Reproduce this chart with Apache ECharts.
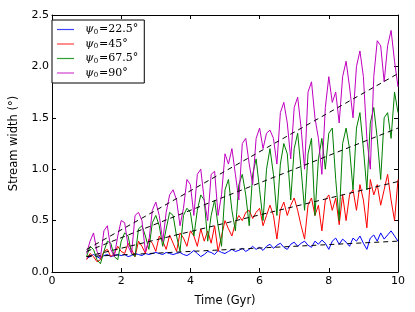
<!DOCTYPE html>
<html>
<head>
<meta charset="utf-8">
<script src="https://cdn.jsdelivr.net/npm/echarts@6/dist/echarts.min.js"></script>
<style>html,body{margin:0;padding:0;background:#fff;}#c{width:415px;height:312px;}</style>
</head>
<body>
<div id="c"></div>
<script>
var times = [1.0,1.1,1.2,1.3,1.4,1.5,1.6,1.7,1.8,1.9,2.0,2.1,2.2,2.3,2.4,2.5,2.6,2.7,2.8,2.9,3.0,3.1,3.2,3.3,3.4,3.5,3.6,3.7,3.8,3.9,4.0,4.1,4.2,4.3,4.4,4.5,4.6,4.7,4.8,4.9,5.0,5.1,5.2,5.3,5.4,5.5,5.6,5.7,5.8,5.9,6.0,6.1,6.2,6.3,6.4,6.5,6.6,6.7,6.8,6.9,7.0,7.1,7.2,7.3,7.4,7.5,7.6,7.7,7.8,7.9,8.0,8.1,8.2,8.3,8.4,8.5,8.6,8.7,8.8,8.9,9.0,9.1,9.2,9.3,9.4,9.5,9.6,9.7,9.8,9.9,10.0];

var blue = [0.13,0.15,0.17,0.15,0.13,0.16,0.17,0.15,0.16,0.17,0.16,0.17,0.15,0.16,0.18,0.17,0.16,0.18,0.17,0.18,0.19,0.18,0.17,0.19,0.18,0.17,0.18,0.19,0.17,0.16,0.18,0.21,0.18,0.15,0.17,0.20,0.19,0.17,0.21,0.19,0.18,0.20,0.22,0.20,0.21,0.23,0.20,0.22,0.25,0.22,0.24,0.21,0.25,0.27,0.23,0.26,0.28,0.24,0.22,0.27,0.29,0.25,0.28,0.30,0.26,0.24,0.30,0.27,0.31,0.28,0.22,0.30,0.33,0.27,0.32,0.29,0.25,0.33,0.30,0.35,0.28,0.22,0.33,0.36,0.30,0.38,0.32,0.36,0.40,0.35,0.30];

var red = [0.12,0.18,0.15,0.10,0.12,0.20,0.22,0.15,0.18,0.25,0.20,0.18,0.28,0.22,0.15,0.30,0.25,0.18,0.32,0.28,0.20,0.35,0.30,0.22,0.36,0.28,0.20,0.38,0.33,0.25,0.40,0.35,0.25,0.42,0.30,0.40,0.28,0.45,0.20,0.35,0.50,0.42,0.35,0.48,0.55,0.50,0.58,0.60,0.52,0.58,0.62,0.45,0.55,0.65,0.55,0.32,0.60,0.68,0.55,0.65,0.72,0.60,0.45,0.32,0.65,0.72,0.55,0.65,0.40,0.70,0.75,0.60,0.72,0.46,0.75,0.50,0.75,0.80,0.60,0.85,0.70,0.43,0.90,0.75,0.85,0.65,0.80,0.95,0.70,0.50,0.90];

var green = [0.15,0.25,0.22,0.12,0.08,0.20,0.30,0.28,0.15,0.12,0.30,0.38,0.35,0.18,0.15,0.42,0.45,0.35,0.22,0.48,0.55,0.45,0.25,0.42,0.58,0.55,0.35,0.20,0.55,0.62,0.58,0.35,0.60,0.75,0.70,0.30,0.55,0.70,0.45,0.25,0.80,0.90,0.60,0.40,0.85,0.95,0.75,0.45,0.95,1.10,0.80,0.50,1.00,1.20,0.95,0.55,1.05,1.25,1.15,0.70,1.20,1.35,1.00,0.60,1.15,1.30,0.55,1.10,1.30,1.00,1.35,1.40,0.90,0.50,1.25,1.40,1.20,0.80,1.40,1.55,1.20,0.80,1.45,1.60,1.30,0.90,1.50,1.55,1.30,1.75,1.55];

var magenta = [0.18,0.30,0.38,0.20,0.14,0.40,0.45,0.22,0.15,0.35,0.50,0.48,0.25,0.18,0.55,0.58,0.50,0.20,0.30,0.60,0.68,0.55,0.30,0.58,0.75,0.80,0.70,0.45,0.62,0.90,0.85,0.55,0.95,1.00,0.70,0.50,0.95,0.98,0.55,0.75,1.15,1.05,1.20,0.95,0.70,1.25,1.30,1.05,0.85,1.30,1.40,1.20,1.35,1.38,1.30,1.05,1.55,1.65,1.45,1.10,1.60,1.70,1.40,1.00,1.75,1.85,1.50,1.30,0.95,1.60,1.90,1.65,1.75,1.45,1.90,2.05,1.80,1.50,2.00,2.15,1.90,1.30,1.00,1.90,2.25,2.20,1.85,2.20,2.35,2.05,1.80];

var fitTimes = [1, 10];
var fitMagenta = [0.22, 1.93];
var fitGreen = [0.20, 1.40];
var fitRed = [0.15, 0.88];
var fitBlue = [0.15, 0.30];

var names = ['ψ0=22.5°', 'ψ0=45°', 'ψ0=67.5°', 'ψ0=90°'];
var labelRest = ['=22.5°', '=45°', '=67.5°', '=90°'];
var colors = ['#0000ff', '#ff0000', '#008000', '#bf00bf'];
var legendColors = ['#4040ff', '#ff4040', '#30a030', '#d040d0'];
var xTicks = [0, 2, 4, 6, 8, 10];
var yTicks = [0, 0.5, 1.0, 1.5, 2.0, 2.5];

function pairs(xs, ys) { return xs.map(function (x, i) { return [x, ys[i]]; }); }

var seriesVals = [blue, red, green, magenta];
var fits = [fitBlue, fitRed, fitGreen, fitMagenta];
var series = [];
seriesVals.forEach(function (v, i) {
  series.push({
    name: names[i], type: 'line', data: pairs(times, v), showSymbol: false,
    lineStyle: { color: colors[i], width: 1 }, itemStyle: { color: legendColors[i] },
    z: 2 + i, xAxisIndex: 0, yAxisIndex: 0
  });
});
fits.forEach(function (f) {
  series.push({
    type: 'line', data: pairs(fitTimes, f), showSymbol: false,
    lineStyle: { color: '#000', width: 1, type: [5, 4] }, z: 10,
    xAxisIndex: 0, yAxisIndex: 0, silent: true
  });
});

var axisFont = { fontFamily: 'DejaVu Sans', fontSize: 11, color: '#000' };
var chart = echarts.init(document.getElementById('c'), null, { renderer: 'canvas' });
chart.setOption({
  animation: false,
  backgroundColor: '#fff',
  grid: { left: 47, right: 17, top: 15, bottom: 40, containLabel: false },
  xAxis: [{
    type: 'value', min: 0, max: 10, interval: 2, position: 'bottom',
    name: 'Time (Gyr)', nameLocation: 'middle', nameGap: 23,
    nameTextStyle: { fontFamily: 'DejaVu Sans', fontSize: 11.5, color: '#000' },
    axisLine: { onZero: false, lineStyle: { color: '#000', width: 1 } },
    axisTick: { inside: true, length: 4, lineStyle: { color: '#000' } },
    axisLabel: Object.assign({ margin: 4 }, axisFont),
    splitLine: { show: false }
  }, {
    type: 'value', min: 0, max: 10, interval: 2, position: 'top',
    axisLine: { onZero: false, lineStyle: { color: '#000', width: 1 } },
    axisTick: { inside: true, length: 4, lineStyle: { color: '#000' } },
    axisLabel: { show: false }, splitLine: { show: false }
  }],
  yAxis: [{
    type: 'value', min: 0, max: 2.5, interval: 0.5, position: 'left',
    name: 'Stream width (°)', nameLocation: 'middle', nameGap: 32, nameRotate: 90,
    nameTextStyle: { fontFamily: 'DejaVu Sans', fontSize: 11.5, color: '#000' },
    axisLine: { show: true, onZero: false, lineStyle: { color: '#000', width: 1 } },
    axisTick: { show: true, inside: true, length: 4, lineStyle: { color: '#000' } },
    axisLabel: Object.assign({ margin: 3, formatter: function (v) { return v.toFixed(1); } }, axisFont),
    splitLine: { show: false }
  }, {
    type: 'value', min: 0, max: 2.5, interval: 0.5, position: 'right',
    axisLine: { show: true, onZero: false, lineStyle: { color: '#000', width: 1 } },
    axisTick: { show: true, inside: true, length: 4, lineStyle: { color: '#000' } },
    axisLabel: { show: false }, splitLine: { show: false }
  }],
  legend: {
    data: names, orient: 'vertical', left: 52, top: 20,
    padding: [4, 6, 4, 5], itemGap: 3, itemWidth: 17, itemHeight: 12,
    borderColor: '#000', borderWidth: 1, backgroundColor: '#fff', borderRadius: 0,
    icon: 'path://M0,5 L17,5 L17,6.2 L0,6.2 Z',
    formatter: function (n) {
      var i = names.indexOf(n);
      return '{a|ψ}{b|0}{c|' + labelRest[i] + '}';
    },
    textStyle: {
      fontFamily: 'DejaVu Serif', fontSize: 11, color: '#000', padding: [0, 0, 0, 6],
      rich: {
        a: { fontFamily: 'DejaVu Serif', fontStyle: 'italic', fontSize: 11, color: '#000' },
        b: { fontFamily: 'DejaVu Serif', fontSize: 7, color: '#000', verticalAlign: 'bottom', padding: [5, 1, 0, 0] },
        c: { fontFamily: 'DejaVu Serif', fontSize: 11, color: '#000' }
      }
    }
  },
  series: series
});
</script>
</body>
</html>
